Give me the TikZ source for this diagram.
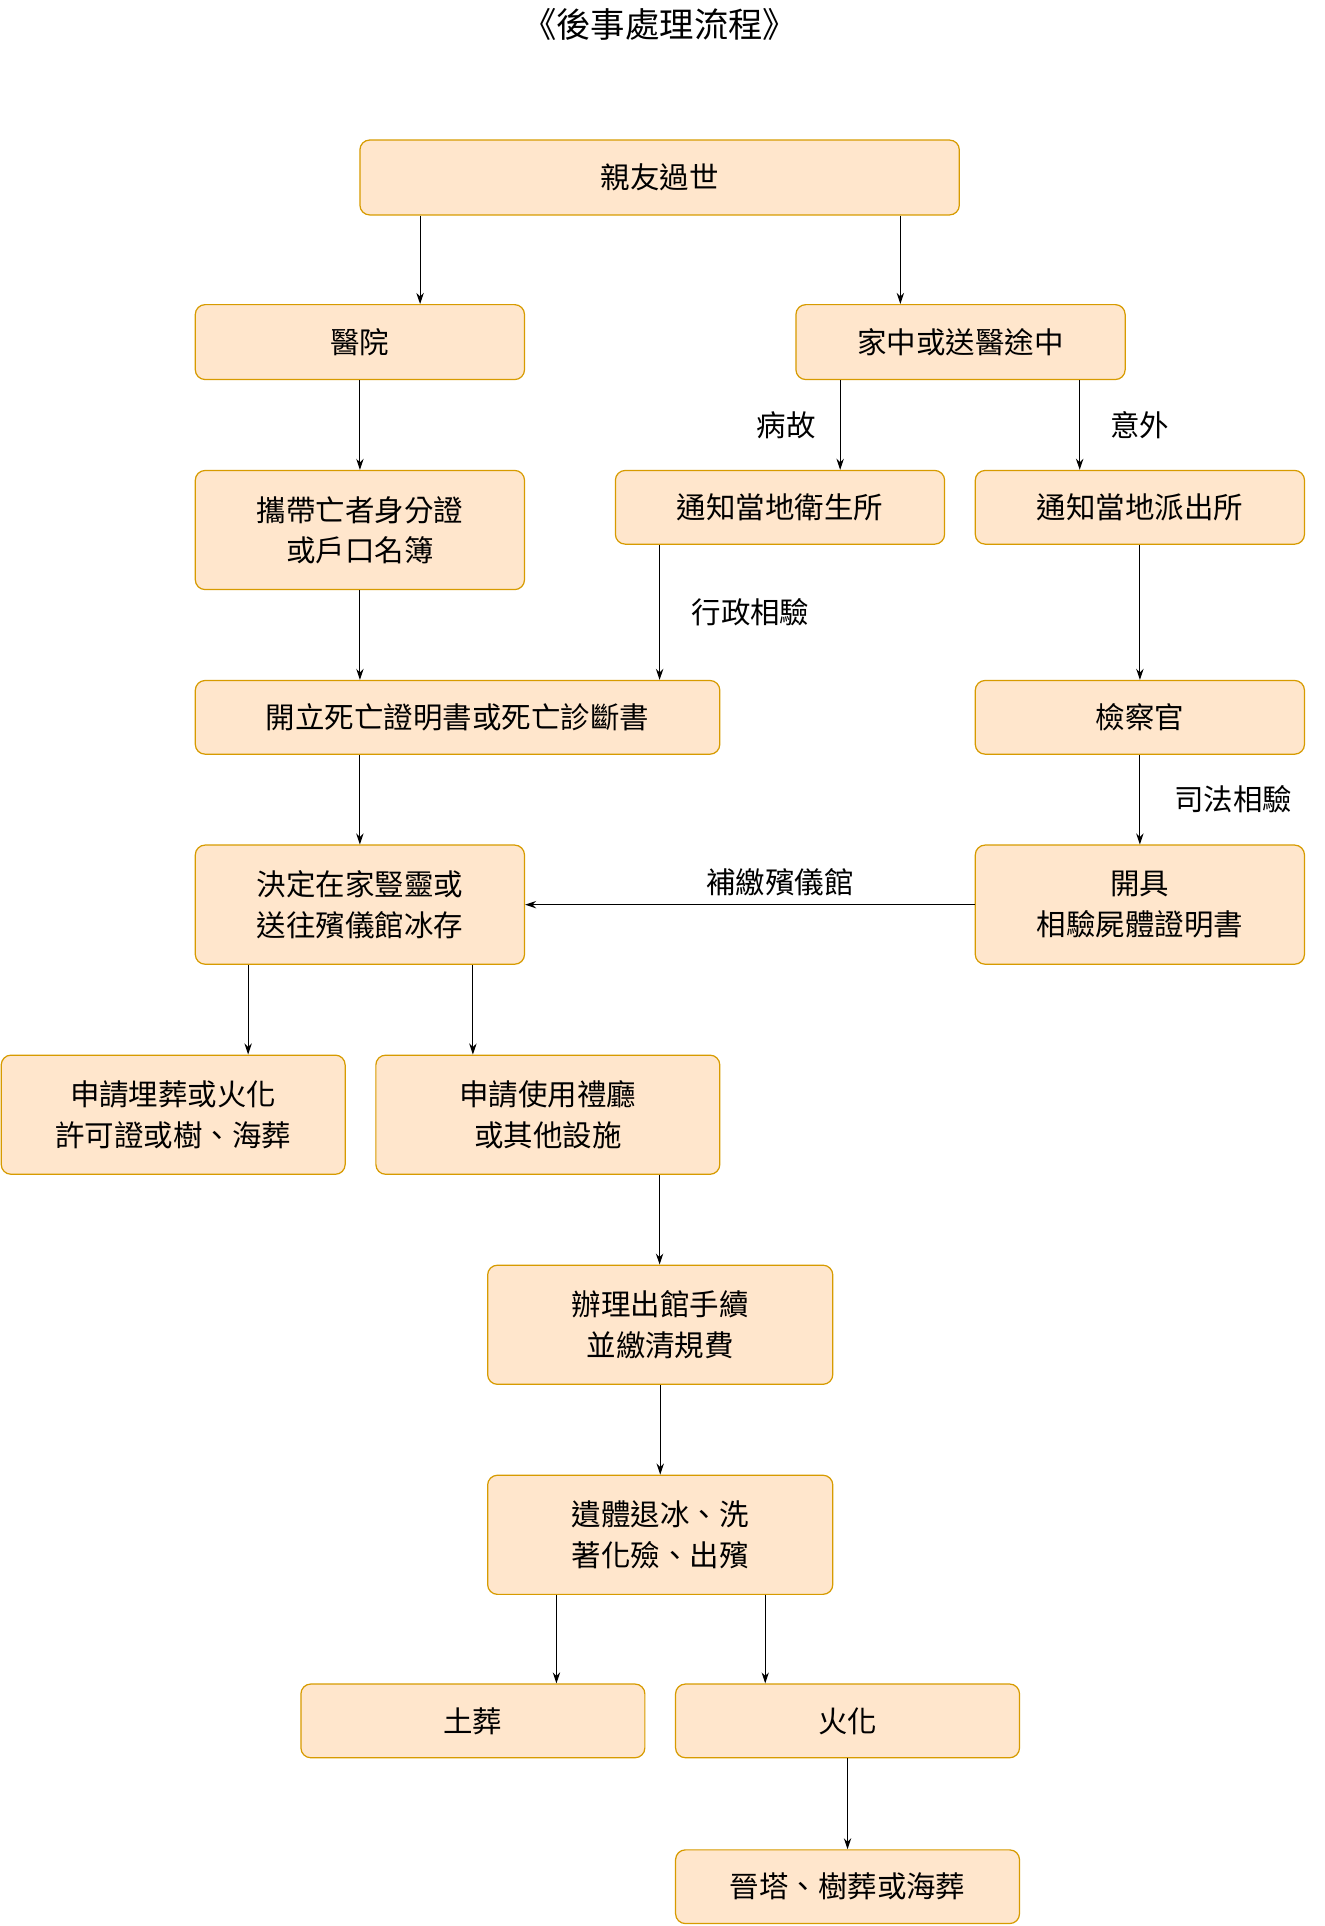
\documentclass[tikz,border=0pt]{standalone}
\usepackage{fontspec}
\setmainfont{Noto Sans CJK TC}
\usetikzlibrary{arrows.meta}
\begin{document}
\begin{tikzpicture}[x=1pt,y=-1pt,
 box/.style={draw=orange!60!black!80,fill=orange!20,rounded corners=8pt,line width=1pt,align=center,inner sep=0pt,font=\fontsize{24}{33}\selectfont},
 arr/.style={-{Stealth[length=9pt,width=6pt]},line width=0.9pt},
 lbl/.style={font=\fontsize{24}{30}\selectfont}]
\useasboundingbox (0,0) rectangle (1078,1568);
\definecolor{bd}{HTML}{D79B00}\definecolor{bf}{HTML}{FFE6CC}
\tikzset{box/.append style={draw=bd,fill=bf}}
\newcommand{\bx}[6]{\node[box,minimum width={#4-#2},minimum height={#5-#3}] (#1) at ({(#2+#4)/2},{(#3+#5)/2}) {#6};}
\node[font=\fontsize{28}{34}\selectfont] (t) at (537,20) {《後事處理流程》};
\bx{a}{293}{114}{781}{175}{親友過世}
\bx{b}{159}{248}{427}{309}{醫院}
\bx{c}{648}{248}{916}{309}{家中或送醫途中}
\bx{d}{159}{383}{427}{480}{攜帶亡者身分證\\或戶口名簿}
\bx{e}{501}{383}{769}{443}{通知當地衛生所}
\bx{f}{794}{383}{1062}{443}{通知當地派出所}
\bx{g}{159}{554}{586}{614}{開立死亡證明書或死亡診斷書}
\bx{h}{794}{554}{1062}{614}{檢察官}
\bx{i}{159}{688}{427}{785}{決定在家豎靈或\\送往殯儀館冰存}
\bx{j}{794}{688}{1062}{785}{開具\\相驗屍體證明書}
\bx{k}{1}{859}{281}{956}{申請埋葬或火化\\許可證或樹、海葬}
\bx{l}{306}{859}{586}{956}{申請使用禮廳\\或其他設施}
\bx{m}{397}{1030}{678}{1127}{辦理出館手續\\並繳清規費}
\bx{n}{397}{1201}{678}{1298}{遺體退冰、洗\\著化殮、出殯}
\bx{o}{245}{1371}{525}{1431}{土葬}
\bx{p}{550}{1371}{830}{1431}{火化}
\bx{q}{550}{1506}{830}{1566}{晉塔、樹葬或海葬}
\draw[arr] (a.south -| 342,0) -- (b.north -| 342,0);
\draw[arr] (a.south -| 733,0) -- (c.north -| 733,0);
\draw[arr] (b) -- (d);
\draw[arr] (c.south -| 684,0) -- (e.north -| 684,0);
\draw[arr] (c.south -| 879,0) -- (f.north -| 879,0);
\draw[arr] (d.south -| 293,0) -- (g.north -| 293,0);
\draw[arr] (e.south -| 537,0) -- (g.north -| 537,0);
\draw[arr] (f) -- (h);
\draw[arr] (g.south -| 293,0) -- (i.north -| 293,0);
\draw[arr] (h) -- (j);
\draw[arr] (j) -- (i);
\draw[arr] (i.south -| 202,0) -- (k.north -| 202,0);
\draw[arr] (i.south -| 385,0) -- (l.north -| 385,0);
\draw[arr] (l.south -| 537,0) -- (m.north -| 537,0);
\draw[arr] (m) -- (n);
\draw[arr] (n.south -| 453,0) -- (o.north -| 453,0);
\draw[arr] (n.south -| 623,0) -- (p.north -| 623,0);
\draw[arr] (p) -- (q);
\node[lbl] (l1) at (640,346) {病故};
\node[lbl] (l2) at (928,346) {意外};
\node[lbl] (l3) at (611,498) {行政相驗};
\node[lbl] (l4) at (1004,651) {司法相驗};
\node[lbl] (l5) at (635,718) {補繳殯儀館};
\end{tikzpicture}
\end{document}
